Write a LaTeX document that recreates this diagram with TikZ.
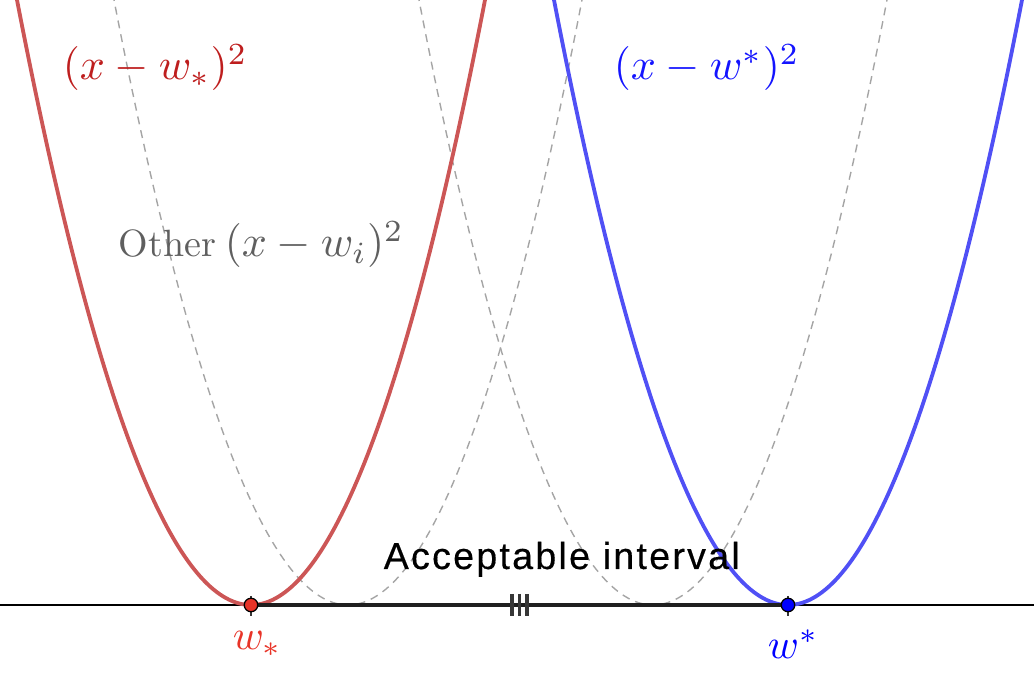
\documentclass[tikz,border=0pt]{standalone}
\usepackage{fontspec}
\newfontfamily\accfont[LetterSpace=6,FakeBold=0.4]{Liberation Sans}
\definecolor{redcurve}{RGB}{204,86,86}
\definecolor{redlabel}{RGB}{190,30,30}
\definecolor{redpt}{RGB}{232,52,40}
\definecolor{bluecurve}{RGB}{80,80,245}
\definecolor{bluelabel}{RGB}{20,20,255}
\definecolor{bluept}{RGB}{0,0,255}
\definecolor{dashgray}{RGB}{165,165,165}
\definecolor{othergray}{RGB}{95,95,95}
\definecolor{tickgray}{RGB}{55,55,55}
\begin{document}
\begin{tikzpicture}[x=1pt,y=1pt,
  curve/.style={line width=3.8pt},
  otherc/.style={dash pattern=on 8pt off 6pt, line width=1.4pt, draw=dashgray},
  lbl/.style={inner sep=0pt, anchor=base west},
  ptmark/.style={line width=2.8pt, draw=tickgray},
  dotp/.style={circle, inner sep=0pt, minimum size=13.5pt, draw=black, line width=1.3pt},
  seg/.style={line width=3.5pt, draw=black!88},
  hatch/.style={line width=3.4pt, draw=tickgray}]
\useasboundingbox (0,0) rectangle (1034,688);
\clip (0,0) rectangle (1034,688);
% other parabolas
\draw[otherc] plot[domain=-1.05:1.05, samples=150] ({348+234*\x},{83+605*\x*\x});
\draw[otherc] plot[domain=-1.05:1.05, samples=150] ({653+234*\x},{83+605*\x*\x});
% axis
\coordinate (axL) at (0,83);
\coordinate (axR) at (1034,83);
\draw[line width=1.2pt, black] (axL) -- (axR);
% main parabolas
\draw[curve, redcurve] plot[domain=-1.05:1.05, samples=150] ({251+234*\x},{83+605*\x*\x});
\draw[curve, bluecurve] plot[domain=-1.05:1.05, samples=150] ({788+234*\x},{83+605*\x*\x});
% interval
\coordinate (wl) at (251,83);
\coordinate (wu) at (788,83);
\draw[seg] (wl) -- (wu);
\coordinate (h1t) at (512,94); \coordinate (h1b) at (512,72);
\coordinate (h2t) at (519.5,94); \coordinate (h2b) at (519.5,72);
\coordinate (h3t) at (527,94); \coordinate (h3b) at (527,72);
\draw[hatch] (h1t) -- (h1b);
\draw[hatch] (h2t) -- (h2b);
\draw[hatch] (h3t) -- (h3b);
% point marks
\coordinate (wlt) at (251,92); \coordinate (wlb) at (251,72);
\coordinate (wut) at (788,92); \coordinate (wub) at (788,72);
\draw[ptmark] (wlt) -- (wlb);
\draw[ptmark] (wut) -- (wub);
\node[dotp, fill=redpt] (wlow) at (wl) {};
\node[dotp, fill=bluept] (wup) at (wu) {};
% labels
\node[lbl, redlabel, scale=4.4] (redlab) at (62,608) {$(x-w_*)^2$};
\node[lbl, bluelabel, scale=4.4] (bluelab) at (613,608) {$(x-w^*)^2$};
\node[lbl, othergray, scale=3.8] (othertxt) at (118,431) {Other};
\node[lbl, othergray, scale=4.4] (othermath) at (224,431) {$(x-w_i)^2$};
\node[lbl, scale=3.76] (acc) at (383,119) {\accfont Acceptable interval};
\node[lbl, redpt, scale=4.2] (wlowlab) at (232,38) {$w_*$};
\node[lbl, bluept, scale=4.2] (wuplab) at (767,29) {$w^*$};
\end{tikzpicture}
\end{document}
